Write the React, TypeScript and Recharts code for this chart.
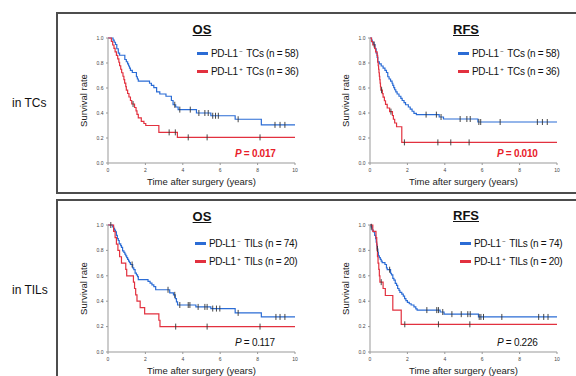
import React from 'react';
import { LineChart, Line, XAxis, YAxis, Legend } from 'recharts';

const FONT = '"Liberation Sans", Arial, Helvetica, sans-serif';
const BLUE = '#2b6cd5';
const RED = '#e2313f';

const xTicks = [0, 2, 4, 6, 8, 10];
const yTicks = [0, 0.2, 0.4, 0.6, 0.8, 1.0];

// ---------- in TCs, OS ----------
const tcOsNegT = [0, 0.27, 0.33, 0.4, 0.47, 0.55, 0.62, 0.9, 0.98, 1.05, 1.1, 1.15, 1.2, 1.3, 1.52, 1.57, 1.62, 2.22, 2.32, 2.45, 2.6, 2.77, 3.1, 3.39, 3.48, 3.62, 3.75, 4.73, 5.5, 6.8, 8.2];
const tcOsNegS = [1, 0.983, 0.966, 0.948, 0.914, 0.879, 0.862, 0.828, 0.81, 0.793, 0.776, 0.759, 0.741, 0.724, 0.69, 0.672, 0.655, 0.638, 0.621, 0.603, 0.569, 0.552, 0.534, 0.5, 0.466, 0.448, 0.427, 0.4, 0.378, 0.35, 0.305];
const tcOsNegC = [3.57, 3.84, 4.4, 4.86, 5.18, 5.36, 5.6, 5.75, 5.9, 6.96, 8.93, 9.2, 9.46];
const tcOsPosT = [0, 0.18, 0.25, 0.32, 0.38, 0.45, 0.52, 0.58, 0.62, 0.68, 0.73, 0.8, 0.85, 0.89, 0.95, 0.98, 1.05, 1.12, 1.2, 1.27, 1.42, 1.5, 1.55, 1.62, 1.78, 1.92, 2.02, 2.72, 3.71];
const tcOsPosS = [1, 0.972, 0.944, 0.917, 0.889, 0.861, 0.833, 0.806, 0.778, 0.75, 0.722, 0.694, 0.667, 0.639, 0.611, 0.583, 0.556, 0.528, 0.5, 0.472, 0.444, 0.417, 0.389, 0.361, 0.333, 0.316, 0.3, 0.245, 0.205];
const tcOsPosC = [1.34, 3.27, 3.6, 4.29, 5.3, 8.13];

// ---------- in TCs, RFS ----------
const tcRfsNegT = [0, 0.08, 0.12, 0.2, 0.27, 0.33, 0.38, 0.42, 0.5, 0.6, 0.7, 0.8, 0.88, 0.95, 1.02, 1.1, 1.18, 1.22, 1.27, 1.32, 1.38, 1.45, 1.55, 1.65, 1.72, 1.82, 1.9, 2.05, 2.15, 2.25, 2.35, 2.48, 3.7, 3.93, 5.77];
const tcRfsNegS = [1, 0.983, 0.966, 0.948, 0.914, 0.879, 0.845, 0.81, 0.793, 0.776, 0.759, 0.741, 0.724, 0.69, 0.672, 0.655, 0.638, 0.621, 0.603, 0.586, 0.569, 0.552, 0.534, 0.517, 0.5, 0.483, 0.466, 0.448, 0.431, 0.414, 0.397, 0.387, 0.368, 0.352, 0.328];
const tcRfsNegC = [0.22, 3.0, 3.55, 3.8, 4.82, 5.18, 5.36, 5.82, 5.92, 6.96, 8.95, 9.22, 9.48];
const tcRfsPosT = [0, 0.08, 0.15, 0.25, 0.3, 0.38, 0.41, 0.44, 0.46, 0.48, 0.5, 0.52, 0.54, 0.56, 0.58, 0.66, 0.7, 0.77, 0.83, 0.92, 1.05, 1.2, 1.25, 1.32, 1.42, 1.7];
const tcRfsPosS = [1, 0.972, 0.944, 0.917, 0.889, 0.861, 0.806, 0.778, 0.75, 0.722, 0.694, 0.667, 0.639, 0.611, 0.583, 0.555, 0.527, 0.498, 0.469, 0.44, 0.411, 0.38, 0.35, 0.32, 0.29, 0.165];
const tcRfsPosC = [0.62, 1.12, 1.84, 3.63, 4.32, 5.3];

// ---------- in TILs, OS ----------
const tilOsNegT = [0, 0.25, 0.3, 0.35, 0.4, 0.45, 0.5, 0.55, 0.6, 0.68, 0.72, 0.78, 0.85, 0.9, 0.95, 1.0, 1.05, 1.1, 1.15, 1.2, 1.32, 1.38, 1.45, 1.52, 1.58, 1.62, 2.14, 2.25, 2.35, 2.45, 2.55, 3.3, 3.5, 3.6, 3.66, 3.72, 4.7, 5.5, 6.8, 8.2];
const tilOsNegS = [1, 0.986, 0.973, 0.959, 0.946, 0.919, 0.892, 0.878, 0.851, 0.838, 0.824, 0.797, 0.784, 0.77, 0.757, 0.743, 0.73, 0.716, 0.703, 0.689, 0.662, 0.648, 0.621, 0.607, 0.594, 0.57, 0.556, 0.543, 0.529, 0.515, 0.49, 0.466, 0.45, 0.42, 0.395, 0.37, 0.355, 0.342, 0.308, 0.276];
const tilOsNegC = [0.15, 1.29, 3.21, 3.57, 3.84, 4.29, 4.38, 4.82, 5.18, 5.3, 5.6, 5.8, 5.98, 6.96, 8.98, 9.2, 9.46];
const tilOsPosT = [0, 0.3, 0.38, 0.45, 0.53, 0.62, 0.72, 0.95, 1.0, 1.36, 1.42, 1.48, 1.55, 1.72, 1.96, 2.72, 2.78];
const tilOsPosS = [1, 0.95, 0.9, 0.85, 0.8, 0.75, 0.7, 0.65, 0.6, 0.55, 0.5, 0.45, 0.4, 0.35, 0.3, 0.25, 0.2];
const tilOsPosC = [3.62, 5.3, 8.13];

// ---------- in TILs, RFS ----------
const tilRfsNegT = [0, 0.05, 0.12, 0.18, 0.25, 0.3, 0.33, 0.36, 0.38, 0.42, 0.45, 0.5, 0.55, 0.6, 0.65, 0.8, 0.88, 0.92, 1.1, 1.15, 1.22, 1.28, 1.35, 1.42, 1.48, 1.55, 1.6, 1.7, 1.78, 1.85, 1.92, 2.0, 2.1, 2.2, 2.35, 2.45, 2.52, 3.75, 3.96, 5.8];
const tilRfsNegS = [1, 0.986, 0.959, 0.946, 0.919, 0.892, 0.865, 0.838, 0.811, 0.784, 0.757, 0.743, 0.73, 0.716, 0.703, 0.689, 0.662, 0.648, 0.62, 0.607, 0.58, 0.566, 0.54, 0.525, 0.5, 0.485, 0.47, 0.455, 0.44, 0.42, 0.405, 0.39, 0.38, 0.37, 0.355, 0.34, 0.33, 0.315, 0.298, 0.276];
const tilRfsNegC = [0.07, 0.4, 1.05, 3.04, 3.57, 3.66, 3.89, 4.38, 4.88, 5.23, 5.36, 5.84, 5.93, 6.07, 7.05, 9.02, 9.29, 9.52];
const tilRfsPosT = [0, 0.15, 0.32, 0.36, 0.38, 0.4, 0.43, 0.47, 0.5, 0.53, 0.7, 0.82, 1.22, 1.67];
const tilRfsPosS = [1, 0.95, 0.9, 0.85, 0.8, 0.75, 0.7, 0.65, 0.6, 0.55, 0.5, 0.445, 0.33, 0.218];
const tilRfsPosC = [0.6, 1.86, 3.66, 5.34];

// labels
const rowLabels = ['in TCs', 'in TILs'];
const endpointTitles = ['OS', 'RFS'];
const tcLegend = [
  { base: 'PD-L1', sup: '−', rest: ' TCs (n = 58)' },
  { base: 'PD-L1', sup: '+', rest: ' TCs (n = 36)' },
];
const tilLegend = [
  { base: 'PD-L1', sup: '−', rest: ' TILs (n = 74)' },
  { base: 'PD-L1', sup: '+', rest: ' TILs (n = 20)' },
];
const pValues = ['0.017', '0.010', '0.117', '0.226'];

type Pt = { t: number; s: number; c: boolean };

function buildCurve(times: number[], surv: number[], censors: number[]): Pt[] {
  const pts: Pt[] = times.map((t, i) => ({ t, s: surv[i], c: false }));
  censors.forEach((ct) => {
    let s = surv[0];
    for (let i = 0; i < times.length; i++) if (times[i] <= ct) s = surv[i];
    pts.push({ t: ct, s, c: true });
  });
  pts.push({ t: 10, s: surv[surv.length - 1], c: false });
  pts.sort((a, b) => a.t - b.t);
  return pts;
}

const renderCensor = (props: any) => {
  const { cx, cy, payload, index } = props;
  if (!payload || !payload.c || cx == null || cy == null) return <g key={`g${index}`} />;
  return <line key={`c${index}`} x1={cx} x2={cx} y1={cy - 3} y2={cy + 3} stroke="#333" strokeWidth={0.9} />;
};

function makeLegend(labels: { base: string; sup: string; rest: string }[]) {
  return (props: any) => {
    const payload = props.payload || [];
    return (
      <div style={{ fontFamily: FONT, fontSize: 10, color: '#111', letterSpacing: -0.3 }}>
        {payload.map((entry: any, i: number) => (
          <div key={i} style={{ display: 'flex', alignItems: 'center', height: 18, whiteSpace: 'nowrap' }}>
            <span style={{ display: 'inline-block', width: 11, height: 3, background: entry.color, marginRight: 3 }} />
            <span>
              {labels[i].base}
              <span style={{ fontSize: 6, position: 'relative', top: -3.5, display: 'inline-block', width: 6, textAlign: 'center' }}>
                {labels[i].sup}
              </span>
              {labels[i].rest}
            </span>
          </div>
        ))}
      </div>
    );
  };
}

type PanelProps = {
  left: number;
  top: number;
  height: number;
  neg: Pt[];
  pos: Pt[];
  legend: { base: string; sup: string; rest: string }[];
  legendLeft: number;
  legendTop: number;
};

function Panel({ left, top, height, neg, pos, legend, legendLeft, legendTop }: PanelProps) {
  return (
    <div style={{ position: 'absolute', left, top }}>
      <LineChart width={245} height={height} margin={{ top: 18, right: 10, bottom: 7, left: 22 }}>
        <XAxis
          dataKey="t"
          type="number"
          domain={[0, 10]}
          ticks={xTicks}
          tickSize={2}
          tickMargin={3}
          height={22}
          stroke="#999"
          tick={{ fontSize: 5, fill: '#444', fontFamily: FONT }}
          label={{ value: 'Time after surgery (years)', position: 'insideBottom', offset: 0, style: { fontSize: 9.5, fill: '#222', fontFamily: FONT } }}
        />
        <YAxis
          type="number"
          domain={[0, 1]}
          ticks={yTicks}
          tickFormatter={(v: number) => v.toFixed(1)}
          tickSize={2}
          tickMargin={2.5}
          width={26}
          stroke="#999"
          tick={{ fontSize: 5, fill: '#444', fontFamily: FONT }}
          label={{ value: 'Survival rate', angle: -90, position: 'insideLeft', offset: 2, style: { textAnchor: 'middle', fontSize: 9.5, fill: '#222', fontFamily: FONT } }}
        />
        <Legend
          layout="vertical"
          verticalAlign="middle"
          align="center"
          wrapperStyle={{ left: legendLeft, top: legendTop, width: 'auto' }}
          content={makeLegend(legend)}
        />
        <Line data={neg} dataKey="s" name="neg" type="stepAfter" stroke={BLUE} strokeWidth={1.2} dot={renderCensor} activeDot={false} isAnimationActive={false} />
        <Line data={pos} dataKey="s" name="pos" type="stepAfter" stroke={RED} strokeWidth={1.2} dot={renderCensor} activeDot={false} isAnimationActive={false} />
      </LineChart>
    </div>
  );
}

const textBase: React.CSSProperties = { position: 'absolute', fontFamily: FONT, whiteSpace: 'nowrap' };

function Title({ cx, cy, text }: { cx: number; cy: number; text: string }) {
  return (
    <div style={{ ...textBase, left: cx - 30, width: 60, top: cy - 8, lineHeight: '16px', textAlign: 'center', fontSize: 13, fontWeight: 'bold', textDecoration: 'underline', color: '#111' }}>
      {text}
    </div>
  );
}

function PValue({ x, cy, value, red }: { x: number; cy: number; value: string; red: boolean }) {
  return (
    <div style={{ ...textBase, left: x, top: cy - 6, lineHeight: '12px', fontSize: 10, letterSpacing: -0.3, fontWeight: red ? 'bold' : 'normal', color: red ? '#e8202a' : '#111' }}>
      <i>P</i> = {value}
    </div>
  );
}

export default function App() {
  const tcOsNeg = buildCurve(tcOsNegT, tcOsNegS, tcOsNegC);
  const tcOsPos = buildCurve(tcOsPosT, tcOsPosS, tcOsPosC);
  const tcRfsNeg = buildCurve(tcRfsNegT, tcRfsNegS, tcRfsNegC);
  const tcRfsPos = buildCurve(tcRfsPosT, tcRfsPosS, tcRfsPosC);
  const tilOsNeg = buildCurve(tilOsNegT, tilOsNegS, tilOsNegC);
  const tilOsPos = buildCurve(tilOsPosT, tilOsPosS, tilOsPosC);
  const tilRfsNeg = buildCurve(tilRfsNegT, tilRfsNegS, tilRfsNegC);
  const tilRfsPos = buildCurve(tilRfsPosT, tilRfsPosS, tilRfsPosC);

  return (
    <div style={{ position: 'fixed', left: 0, top: 0, width: 576, height: 376, overflow: 'hidden', background: '#fff', fontFamily: FONT }}>
      <div style={{ position: 'absolute', left: 56, top: 12, width: 600, height: 182, border: '2px solid #4d4d4d', boxSizing: 'border-box' }} />
      <div style={{ position: 'absolute', left: 56, top: 199, width: 600, height: 300, border: '2px solid #4d4d4d', boxSizing: 'border-box' }} />

      <div style={{ ...textBase, left: 12, top: 96, fontSize: 12, lineHeight: '14px', color: '#111' }}>{rowLabels[0]}</div>
      <div style={{ ...textBase, left: 12, top: 283, fontSize: 12, lineHeight: '14px', color: '#111' }}>{rowLabels[1]}</div>

      <Panel left={60} top={20} height={172} neg={tcOsNeg} pos={tcOsPos} legend={tcLegend} legendLeft={137} legendTop={24} />
      <Panel left={322} top={20} height={172} neg={tcRfsNeg} pos={tcRfsPos} legend={tcLegend} legendLeft={136} legendTop={24} />
      <Panel left={60} top={207} height={174} neg={tilOsNeg} pos={tilOsPos} legend={tilLegend} legendLeft={135} legendTop={27} />
      <Panel left={322} top={207} height={174} neg={tilRfsNeg} pos={tilRfsPos} legend={tilLegend} legendLeft={138} legendTop={27} />

      <Title cx={202} cy={30} text={endpointTitles[0]} />
      <Title cx={466} cy={29.5} text={endpointTitles[1]} />
      <Title cx={202} cy={216.7} text={endpointTitles[0]} />
      <Title cx={466} cy={216} text={endpointTitles[1]} />

      <PValue x={235} cy={154} value={pValues[0]} red />
      <PValue x={497} cy={154} value={pValues[1]} red />
      <PValue x={235} cy={342.7} value={pValues[2]} red={false} />
      <PValue x={497} cy={342.7} value={pValues[3]} red={false} />
    </div>
  );
}
